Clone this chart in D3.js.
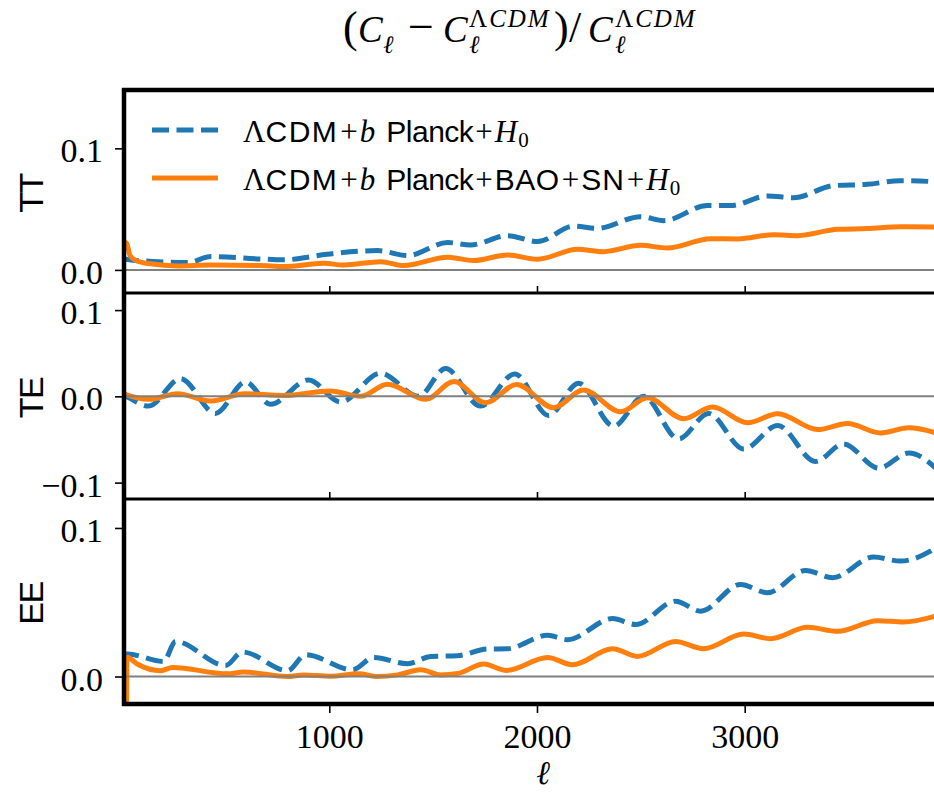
<!DOCTYPE html>
<html>
<head>
<meta charset="utf-8">
<script src="https://cdn.jsdelivr.net/npm/d3@7"></script>
<style>
  html, body { margin: 0; padding: 0; background: #fff; }
  svg { display: block; }
</style>
</head>
<body>
<svg id="chart" width="934" height="792"></svg>
<script>
// Fractional residuals of the CMB power spectra relative to ΛCDM.
// Each series is a list of [multipole ℓ, (C_ℓ − C_ℓ^ΛCDM)/C_ℓ^ΛCDM].

const panelNames = ["TT", "TE", "EE"];
const seriesLabels = ["Planck+H0", "Planck+BAO+SN+H0"];
const xTicks = [1000, 2000, 3000];
const yTicks = [[0, 0.1], [-0.1, 0, 0.1], [0, 0.1]];
const yLimits = [[-0.019, 0.148], [-0.119, 0.1198], [-0.0185, 0.1195]];
const ellRange = [2, 3950];

const ttPlanckH0 = [[2,0.0095],[30,0.0085],[150,0.007],[318,0.006],[430,0.011],[670,0.009],[780,0.0083],[990,0.0129],[1232,0.0159],[1377,0.0118],[1570,0.0225],[1680,0.0205],[1858,0.0282],[2003,0.0233],[2177,0.036],[2290,0.0342],[2499,0.0438],[2610,0.0405],[2820,0.0529],[2932,0.0529],[3110,0.0608],[3235,0.0594],[3428,0.0693],[3590,0.0704],[3750,0.0734],[3950,0.0723]];
const ttPlanckBaoSnH0 = [[2,0.024],[24,0.022],[40,0.012],[70,0.0075],[140,0.005],[270,0.0033],[430,0.004],[670,0.0036],[780,0.0027],[973,0.0055],[1070,0.004],[1247,0.0068],[1358,0.0036],[1570,0.0104],[1695,0.0077],[1858,0.0123],[2003,0.0088],[2195,0.017],[2321,0.015],[2499,0.0203],[2627,0.018],[2836,0.0257],[2965,0.0255],[3141,0.029],[3255,0.0282],[3448,0.0334],[3590,0.034],[3750,0.0356],[3950,0.0353]];

const tePlanckH0 = [[2,0.002],[30,-0.001],[130,-0.0113],[284,0.0206],[452,-0.0198],[597,0.0167],[717,-0.0093],[900,0.019],[1054,-0.0066],[1247,0.0268],[1430,0.0],[1560,0.0323],[1728,-0.0113],[1893,0.026],[2056,-0.0222],[2200,0.0152],[2369,-0.0346],[2513,0.0],[2682,-0.0494],[2826,-0.0198],[2995,-0.061],[3159,-0.0338],[3341,-0.0755],[3476,-0.0552],[3645,-0.0832],[3790,-0.0657],[3950,-0.09]];
const tePlanckBaoSnH0 = [[2,0.0035],[130,-0.0035],[270,0.0031],[430,-0.0054],[590,0.0031],[780,0.001],[1006,0.0062],[1150,0.0],[1280,0.014],[1464,-0.0035],[1600,0.0171],[1753,-0.0074],[1902,0.0136],[2080,-0.0132],[2224,0.0074],[2403,-0.0179],[2532,-0.0016],[2706,-0.026],[2845,-0.0124],[3014,-0.0307],[3159,-0.0202],[3351,-0.0385],[3495,-0.0315],[3654,-0.0424],[3790,-0.0365],[3950,-0.0445]];

const eePlanckH0 = [[2,0.015],[29,0.0151],[202,0.0101],[260,0.0236],[500,0.0074],[582,0.0165],[799,0.0039],[886,0.0147],[1112,0.0045],[1213,0.0128],[1377,0.0086],[1488,0.0135],[1618,0.014],[1762,0.0185],[1858,0.0187],[2051,0.0277],[2147,0.0248],[2364,0.039],[2475,0.035],[2667,0.0507],[2788,0.044],[2980,0.062],[3110,0.0564],[3293,0.0714],[3423,0.0665],[3621,0.0804],[3750,0.0777],[3950,0.089]];
const eePlanckBaoSnH0 = [[2,-0.06],[22,-0.05],[26,0.013],[75,0.0084],[188,0.0039],[245,0.0061],[510,0.0018],[587,0.003],[799,0.0],[876,0.0011],[1006,0.0002],[1141,0.0018],[1232,0.0],[1329,0.0011],[1440,0.0045],[1536,0.0011],[1618,0.002],[1743,0.0084],[1853,0.0041],[2051,0.0128],[2171,0.0079],[2364,0.0187],[2484,0.0135],[2667,0.0236],[2802,0.0187],[2995,0.0286],[3125,0.0255],[3303,0.0331],[3448,0.0304],[3640,0.0376],[3765,0.0367],[3950,0.042]];

const panelSeries = [
  [ttPlanckH0, ttPlanckBaoSnH0],
  [tePlanckH0, tePlanckBaoSnH0],
  [eePlanckH0, eePlanckBaoSnH0]
];

// ---- layout and style ----
const SERIF = "'Liberation Serif', 'DejaVu Serif', serif";
const SANS = "'Liberation Sans', 'DejaVu Sans', sans-serif";
const BLUE = "#1f77b4", ORANGE = "#ff7f0e";
const lineStyles = [
  { color: BLUE, dash: "17,7.5" },
  { color: ORANGE, dash: null }
];
const LW = 5;
const panelTop = [90, 293, 499];
const panelBottom = [293, 499, 704];
const left = 122, right = 942;

const svg = d3.select("#chart");
svg.append("rect").attr("width", 934).attr("height", 792).attr("fill", "#fff");

const x = d3.scaleLinear().domain(ellRange).range([left, right]);

// Lay out styled runs along one baseline. A run with `w` occupies a fixed
// slot; a run marked `hold` shares its slot with the next run (sub/sup pair).
function richText(parent, cx, cy, runs) {
  const g = parent.append("g").attr("transform", `translate(${cx},${cy})`);
  let pos = 0, held = 0;
  runs.forEach(r => {
    const t = g.append("text")
      .attr("x", pos + (r.pre || 0))
      .attr("y", r.dy || 0)
      .attr("fill", "#000");
    r.parts.forEach(p => {
      const sp = t.append("tspan")
        .attr("font-family", p.f || SERIF)
        .attr("font-size", p.s)
        .attr("font-style", p.i ? "italic" : "normal")
        .text(p.t);
      if (p.ls) sp.attr("letter-spacing", p.ls);
    });
    const w = r.w != null ? r.w
      : t.node().getComputedTextLength() + (r.pre || 0) + (r.post || 0);
    if (r.hold) { held = w; }
    else { pos += Math.max(w, held); held = 0; }
  });
  return g;
}

// ---- title ----
const TS = 37, TSS = 25;
const sup = [{ t: "Λ", s: TSS, ls: 2 }, { t: "CDM", s: TSS, i: true, ls: 2 }];
richText(svg, 343, 42, [
  { parts: [{ t: "(", s: 44 }], w: 15 },
  { parts: [{ t: "C", s: TS, i: true }], w: 25 },
  { parts: [{ t: "ℓ", s: TSS, i: true }], dy: 11, w: 16 },
  { parts: [{ t: "−", s: 46 }], pre: 9, w: 44 },
  { parts: [{ t: "C", s: TS, i: true }], w: 26 },
  { parts: [{ t: "ℓ", s: TSS, i: true }], dy: 11, hold: true },
  { parts: sup, dy: -15, w: 85 },
  { parts: [{ t: ")", s: 44 }], w: 14 },
  { parts: [{ t: "/", s: 44 }], pre: 1, w: 20 },
  { parts: [{ t: "C", s: TS, i: true }], w: 27 },
  { parts: [{ t: "ℓ", s: TSS, i: true }], dy: 11, hold: true },
  { parts: sup, dy: -15 }
]);

// ---- panels ----
panelNames.forEach((name, k) => {
  const y = d3.scaleLinear().domain(yLimits[k]).range([panelBottom[k], panelTop[k]]);
  const g = svg.append("g");

  const clipId = "clip-" + name;
  svg.append("clipPath").attr("id", clipId)
    .append("rect")
    .attr("x", left).attr("y", panelTop[k])
    .attr("width", right - left).attr("height", panelBottom[k] - panelTop[k]);

  const plot = g.append("g").attr("clip-path", `url(#${clipId})`);
  const line = d3.line()
    .x(d => x(d[0]))
    .y(d => y(d[1]))
    .curve(d3.curveMonotoneX);

  panelSeries[k].forEach((data, s) => {
    plot.append("path")
      .datum(data)
      .attr("d", line)
      .attr("fill", "none")
      .attr("stroke", lineStyles[s].color)
      .attr("stroke-width", LW)
      .attr("stroke-dasharray", lineStyles[s].dash)
      .attr("stroke-linejoin", "round");
  });

  // reference line at zero
  plot.append("line")
    .attr("x1", left).attr("x2", right)
    .attr("y1", y(0)).attr("y2", y(0))
    .attr("stroke", "#808080").attr("stroke-width", 2);

  // y axis
  const ya = g.append("g")
    .attr("transform", `translate(${left},0)`)
    .call(d3.axisLeft(y).tickValues(yTicks[k]).tickSize(7).tickPadding(12)
      .tickFormat(d3.format(".1f")));
  ya.select(".domain").remove();
  ya.selectAll(".tick line").attr("stroke", "#000").attr("stroke-width", 1.6);
  ya.selectAll(".tick text")
    .attr("font-family", SERIF).attr("font-size", 34).attr("fill", "#000")
    .attr("dy", "0.4em");

  // x axis ticks along the bottom of every panel
  const last = k === panelNames.length - 1;
  const xa = g.append("g")
    .attr("transform", `translate(0,${panelBottom[k]})`)
    .call(d3.axisBottom(x).tickValues(xTicks).tickSize(last ? 9 : -7).tickPadding(11)
      .tickFormat(last ? d3.format("d") : () => ""));
  xa.select(".domain").remove();
  xa.selectAll(".tick line").attr("stroke", "#000").attr("stroke-width", 1.6);
  xa.selectAll(".tick text")
    .attr("font-family", SERIF).attr("font-size", 34).attr("fill", "#000");

  // panel label
  g.append("text")
    .attr("transform", `translate(43,${(panelTop[k] + panelBottom[k]) / 2 + 2}) rotate(-90)`)
    .attr("text-anchor", "middle")
    .attr("font-family", SANS).attr("font-size", 34)
    .attr("letter-spacing", -1.5)
    .attr("fill", "#000")
    .text(name);
});

// ---- frame ----
const frame = svg.append("g").attr("stroke", "#000").attr("fill", "none");
frame.append("line").attr("x1", left + 2).attr("x2", left + 2)
  .attr("y1", panelTop[0] - 2).attr("y2", panelBottom[2] + 2).attr("stroke-width", 4.5);
frame.append("line").attr("x1", left).attr("x2", right)
  .attr("y1", panelTop[0]).attr("y2", panelTop[0]).attr("stroke-width", 4.5);
frame.append("line").attr("x1", left).attr("x2", right)
  .attr("y1", panelBottom[2]).attr("y2", panelBottom[2]).attr("stroke-width", 4.5);
[panelBottom[0], panelBottom[1]].forEach(yy => {
  frame.append("line").attr("x1", left).attr("x2", right)
    .attr("y1", yy).attr("y2", yy).attr("stroke-width", 3);
});

// ---- x label ----
svg.append("text")
  .attr("x", 543).attr("y", 784)
  .attr("text-anchor", "middle")
  .attr("font-family", SERIF).attr("font-style", "italic").attr("font-size", 33)
  .attr("fill", "#000")
  .text("ℓ");

// ---- legend ----
const LS = 30, LM = 31, LSS = 21;
const plus = { parts: [{ t: "+", s: LM }], pre: 2, post: 2 };
const legendRows = [130, 178];
legendRows.forEach((ly, s) => {
  svg.append("line")
    .attr("x1", 152).attr("x2", 218).attr("y1", ly).attr("y2", ly)
    .attr("stroke", lineStyles[s].color).attr("stroke-width", LW)
    .attr("stroke-dasharray", lineStyles[s].dash);
  const extra = s === 0 ? [] : [
    { parts: [{ t: "BAO", s: LS, f: SANS, ls: 0.5 }] },
    plus,
    { parts: [{ t: "SN", s: LS, f: SANS, ls: 1 }] },
    plus
  ];
  richText(svg, 243, ly + 12, [
    { parts: [{ t: "Λ", s: LM }] },
    { parts: [{ t: "CDM", s: LS, f: SANS, ls: 1.5 }] },
    plus,
    { parts: [{ t: "b", s: LM, i: true }], post: 11 },
    { parts: [{ t: "Planck", s: LS, f: SANS, ls: -0.5 }] },
    plus,
    ...extra,
    { parts: [{ t: "H", s: LM, i: true }], post: 1 },
    { parts: [{ t: "0", s: LSS }], dy: 5 }
  ]);
});
</script>
</body>
</html>
